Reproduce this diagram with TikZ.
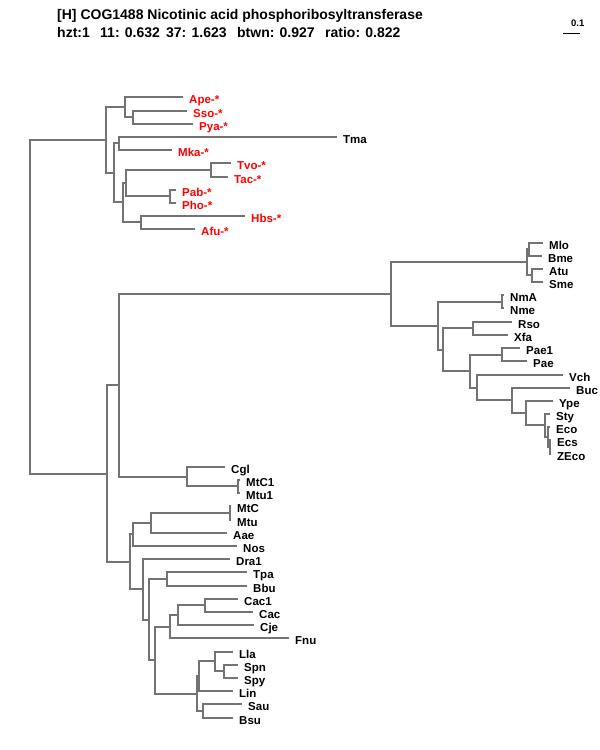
\documentclass[tikz,border=0pt]{standalone}
\usepackage{fontspec}
\setmainfont{Liberation Sans}
\usetikzlibrary{positioning}
\definecolor{branchgray}{RGB}{115,115,115}
\begin{document}
\begin{tikzpicture}[x=1pt,y=-1pt]
 \begin{scope}[branch/.style={draw=branchgray,line width=2pt},
   lbl/.style={anchor=base west,inner sep=0pt,xshift=6pt,yshift=-6.5pt,font=\fontsize{11.5}{13}\selectfont\bfseries},
   redlbl/.style={lbl,text=red},
   head/.style={anchor=base west,inner sep=0pt,font=\fontsize{14}{16}\selectfont\bfseries}]
   \useasboundingbox (0,0) rectangle (600,750);

   %Kopf
   \node[head] (title) at (57,19) {[H] COG1488 Nicotinic acid phosphoribosyltransferase};
   \node[head] (stats) at (57,37) {\makebox[43pt][l]{hzt:1}\makebox[66pt][l]{11: 0.632}\makebox[71pt][l]{37: 1.623}\makebox[88pt][l]{btwn: 0.927}ratio: 0.822};
   \coordinate (bar1) at (563,33);
   \coordinate (bar2) at (580,33);
   \draw[line width=1pt] (bar1) -- (bar2);
   \node[anchor=base west,inner sep=0pt,font=\fontsize{9.5}{10}\selectfont\bfseries] (barL) at (571,26) {0.1};

   %innere Knoten
   \coordinate (root) at (30,307);
   \coordinate (arc) at (106,140);
   \coordinate (a1) at (125,107);
   \coordinate (a2) at (133,117);
   \coordinate (a3) at (114,173);
   \coordinate (a4) at (119,143);
   \coordinate (a5) at (123,202);
   \coordinate (a6) at (126,183);
   \coordinate (a7) at (211,170);
   \coordinate (a8) at (170,196);
   \coordinate (a9) at (141,222);
   \coordinate (b0) at (107,474);
   \coordinate (b1) at (119,385);
   \coordinate (pro) at (391,294);
   \coordinate (p1) at (527,262);
   \coordinate (p2) at (529,249);
   \coordinate (p3) at (532,275);
   \coordinate (p4) at (438,326);
   \coordinate (p5) at (502,302);
   \coordinate (p6) at (443,350);
   \coordinate (p7) at (473,328);
   \coordinate (p8) at (470,371);
   \coordinate (p9) at (502,355);
   \coordinate (p10) at (477,388);
   \coordinate (p11) at (512,400);
   \coordinate (p12) at (526,413);
   \coordinate (e1) at (545,425);
   \coordinate (e2) at (548,437);
   \coordinate (e3) at (550,447);
   \coordinate (c1) at (187,477);
   \coordinate (c2) at (238,486);
   \coordinate (l1) at (130,562);
   \coordinate (m1) at (133,534);
   \coordinate (m2) at (151,523);
   \coordinate (m3) at (230,513);
   \coordinate (d1) at (143,589);
   \coordinate (g1) at (149,620);
   \coordinate (f1) at (167,579);
   \coordinate (g2) at (155,660);
   \coordinate (fn) at (170,627);
   \coordinate (cac1) at (178,615);
   \coordinate (cac2) at (205,605);
   \coordinate (s5) at (197,694);
   \coordinate (s3) at (199,676);
   \coordinate (s1) at (215,661);
   \coordinate (s2) at (224,671);
   \coordinate (s4) at (203,711);

   %Blaetter
   \coordinate (ape) at (183,97);   \node[redlbl] (apeL) at (ape) {Ape-*};
   \coordinate (sso) at (187,111);  \node[redlbl] (ssoL) at (sso) {Sso-*};
   \coordinate (pya) at (193,124);  \node[redlbl] (pyaL) at (pya) {Pya-*};
   \coordinate (tma) at (337,137);  \node[lbl] (tmaL) at (tma) {Tma};
   \coordinate (mka) at (172,150);  \node[redlbl] (mkaL) at (mka) {Mka-*};
   \coordinate (tvo) at (231,163);  \node[redlbl] (tvoL) at (tvo) {Tvo-*};
   \coordinate (tac) at (228,177);  \node[redlbl] (tacL) at (tac) {Tac-*};
   \coordinate (pab) at (176,190);  \node[redlbl] (pabL) at (pab) {Pab-*};
   \coordinate (pho) at (176,203);  \node[redlbl] (phoL) at (pho) {Pho-*};
   \coordinate (hbs) at (245,216);  \node[redlbl] (hbsL) at (hbs) {Hbs-*};
   \coordinate (afu) at (195,229);  \node[redlbl] (afuL) at (afu) {Afu-*};
   \coordinate (mlo) at (543,243);  \node[lbl] (mloL) at (mlo) {Mlo};
   \coordinate (bme) at (542,256);  \node[lbl] (bmeL) at (bme) {Bme};
   \coordinate (atu) at (543,269);  \node[lbl] (atuL) at (atu) {Atu};
   \coordinate (sme) at (543,282);  \node[lbl] (smeL) at (sme) {Sme};
   \coordinate (nma) at (504,295);  \node[lbl] (nmaL) at (nma) {NmA};
   \coordinate (nme) at (504,308);  \node[lbl] (nmeL) at (nme) {Nme};
   \coordinate (rso) at (512,322);  \node[lbl] (rsoL) at (rso) {Rso};
   \coordinate (xfa) at (508,335);  \node[lbl] (xfaL) at (xfa) {Xfa};
   \coordinate (pae1) at (520,348); \node[lbl] (pae1L) at (pae1) {Pae1};
   \coordinate (pae) at (527,361);  \node[lbl] (paeL) at (pae) {Pae};
   \coordinate (vch) at (563,375);  \node[lbl] (vchL) at (vch) {Vch};
   \coordinate (buc) at (570,388);  \node[lbl] (bucL) at (buc) {Buc};
   \coordinate (ype) at (553,401);  \node[lbl] (ypeL) at (ype) {Ype};
   \coordinate (sty) at (550,414);  \node[lbl] (styL) at (sty) {Sty};
   \coordinate (eco) at (550,427);  \node[lbl] (ecoL) at (eco) {Eco};
   \coordinate (ecs) at (551,440);  \node[lbl] (ecsL) at (ecs) {Ecs};
   \coordinate (zeco) at (551,454); \node[lbl] (zecoL) at (zeco) {ZEco};
   \coordinate (cgl) at (225,467);  \node[lbl] (cglL) at (cgl) {Cgl};
   \coordinate (mtc1) at (240,480); \node[lbl] (mtc1L) at (mtc1) {MtC1};
   \coordinate (mtu1) at (240,493); \node[lbl] (mtu1L) at (mtu1) {Mtu1};
   \coordinate (mtc) at (231,506);  \node[lbl] (mtcL) at (mtc) {MtC};
   \coordinate (mtu) at (231,520);  \node[lbl] (mtuL) at (mtu) {Mtu};
   \coordinate (aae) at (227,533);  \node[lbl] (aaeL) at (aae) {Aae};
   \coordinate (nos) at (237,546);  \node[lbl] (nosL) at (nos) {Nos};
   \coordinate (dra1) at (230,559); \node[lbl] (dra1L) at (dra1) {Dra1};
   \coordinate (tpa) at (247,572);  \node[lbl] (tpaL) at (tpa) {Tpa};
   \coordinate (bbu) at (247,586);  \node[lbl] (bbuL) at (bbu) {Bbu};
   \coordinate (cc1) at (238,599);  \node[lbl] (cc1L) at (cc1) {Cac1};
   \coordinate (cac) at (253,612);  \node[lbl] (cacL) at (cac) {Cac};
   \coordinate (cje) at (254,625);  \node[lbl] (cjeL) at (cje) {Cje};
   \coordinate (fnu) at (289,638);  \node[lbl] (fnuL) at (fnu) {Fnu};
   \coordinate (lla) at (233,652);  \node[lbl] (llaL) at (lla) {Lla};
   \coordinate (spn) at (238,665);  \node[lbl] (spnL) at (spn) {Spn};
   \coordinate (spy) at (238,678);  \node[lbl] (spyL) at (spy) {Spy};
   \coordinate (lin) at (233,691);  \node[lbl] (linL) at (lin) {Lin};
   \coordinate (sau) at (242,704);  \node[lbl] (sauL) at (sau) {Sau};
   \coordinate (bsu) at (233,718);  \node[lbl] (bsuL) at (bsu) {Bsu};

   %Aeste
   \draw[branch] (root) |- (arc) (root) |- (b0);
   \draw[branch] (arc) |- (a1) (arc) |- (a3);
   \draw[branch] (a1) |- (ape) (a1) |- (a2);
   \draw[branch] (a2) |- (sso) (a2) |- (pya);
   \draw[branch] (a3) |- (a4) (a3) |- (a5);
   \draw[branch] (a4) |- (tma) (a4) |- (mka);
   \draw[branch] (a5) |- (a6) (a5) |- (a9);
   \draw[branch] (a6) |- (a7) (a6) |- (a8);
   \draw[branch] (a7) |- (tvo) (a7) |- (tac);
   \draw[branch] (a8) |- (pab) (a8) |- (pho);
   \draw[branch] (a9) |- (hbs) (a9) |- (afu);
   \draw[branch] (b0) |- (b1) (b0) |- (l1);
   \draw[branch] (b1) |- (pro) (b1) |- (c1);
   \draw[branch] (pro) |- (p1) (pro) |- (p4);
   \draw[branch] (p1) |- (p2) (p1) |- (p3);
   \draw[branch] (p2) |- (mlo) (p2) |- (bme);
   \draw[branch] (p3) |- (atu) (p3) |- (sme);
   \draw[branch] (p4) |- (p5) (p4) |- (p6);
   \draw[branch] (p5) |- (nma) (p5) |- (nme);
   \draw[branch] (p6) |- (p7) (p6) |- (p8);
   \draw[branch] (p7) |- (rso) (p7) |- (xfa);
   \draw[branch] (p8) |- (p9) (p8) |- (p10);
   \draw[branch] (p9) |- (pae1) (p9) |- (pae);
   \draw[branch] (p10) |- (vch) (p10) |- (p11);
   \draw[branch] (p11) |- (buc) (p11) |- (p12);
   \draw[branch] (p12) |- (ype) (p12) |- (e1);
   \draw[branch] (e1) |- (sty) (e1) |- (e2);
   \draw[branch] (e2) |- (eco) (e2) |- (e3);
   \draw[branch] (e3) |- (ecs) (e3) |- (zeco);
   \draw[branch] (c1) |- (cgl) (c1) |- (c2);
   \draw[branch] (c2) |- (mtc1) (c2) |- (mtu1);
   \draw[branch] (l1) |- (m1) (l1) |- (d1);
   \draw[branch] (m1) |- (m2) (m1) |- (nos);
   \draw[branch] (m2) |- (m3) (m2) |- (aae);
   \draw[branch] (m3) |- (mtc) (m3) |- (mtu);
   \draw[branch] (d1) |- (dra1) (d1) |- (g1);
   \draw[branch] (g1) |- (f1) (g1) |- (g2);
   \draw[branch] (f1) |- (tpa) (f1) |- (bbu);
   \draw[branch] (g2) |- (fn) (g2) |- (s5);
   \draw[branch] (fn) |- (cac1) (fn) |- (fnu);
   \draw[branch] (cac1) |- (cac2) (cac1) |- (cje);
   \draw[branch] (cac2) |- (cc1) (cac2) |- (cac);
   \draw[branch] (s5) |- (s3) (s5) |- (s4);
   \draw[branch] (s3) |- (s1) (s3) |- (lin);
   \draw[branch] (s1) |- (lla) (s1) |- (s2);
   \draw[branch] (s2) |- (spn) (s2) |- (spy);
   \draw[branch] (s4) |- (sau) (s4) |- (bsu);
 \end{scope}
\end{tikzpicture}
\end{document}
